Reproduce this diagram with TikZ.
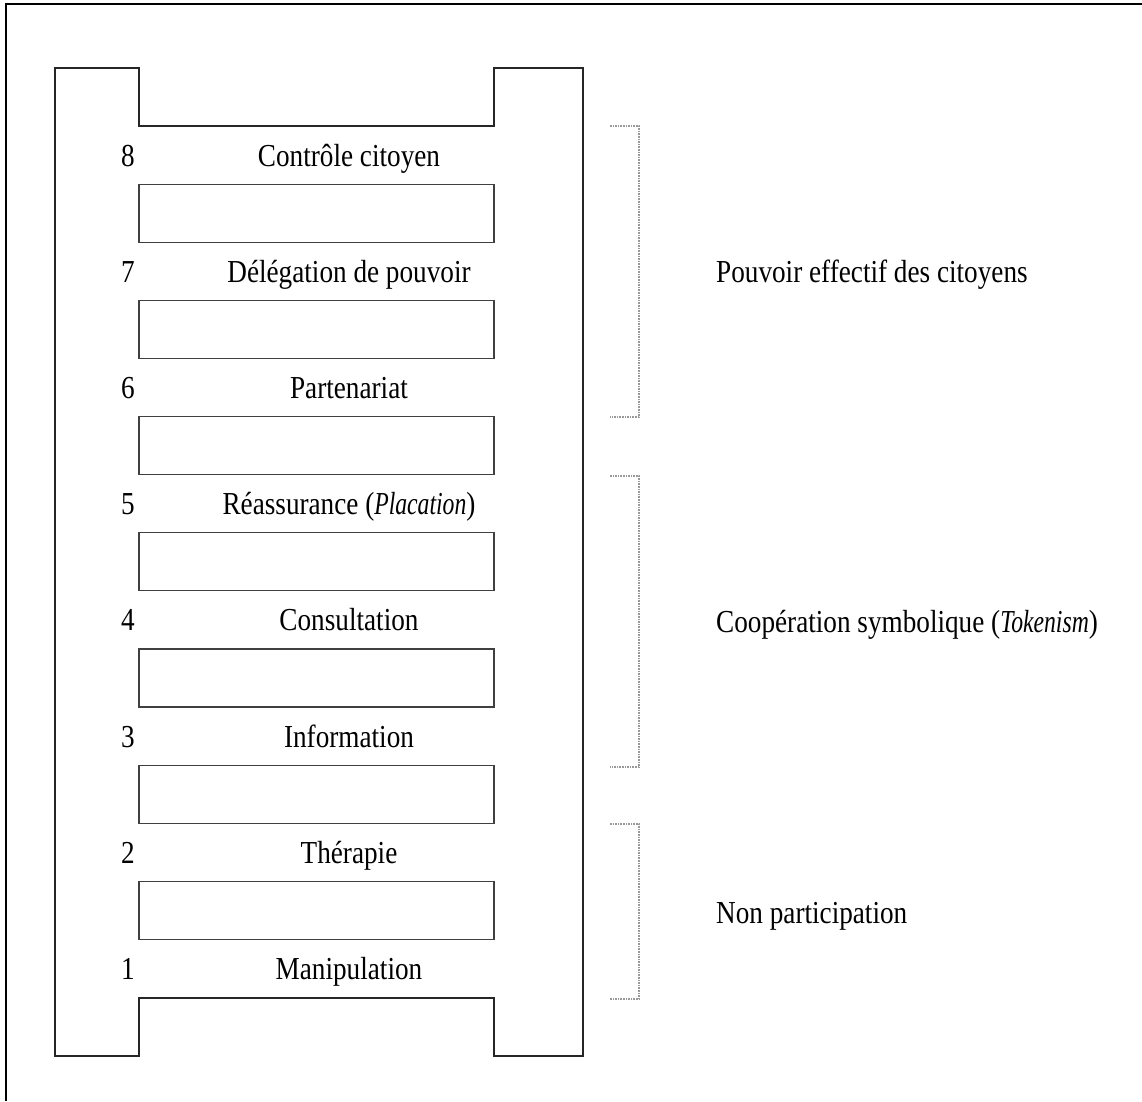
\documentclass[tikz,border=0pt]{standalone}
\usepackage{fontspec}
\setmainfont{Liberation Serif}[FakeStretch=0.85, ItalicFeatures={FakeStretch=0.74}]
\begin{document}
\begin{tikzpicture}[x=1pt,y=-1pt,
  rail/.style={draw=black!85, line width=1.3pt},
  rung/.style={draw=black!75, line width=1.3pt, minimum width=355pt, minimum height=58pt, inner sep=0pt},
  lbl/.style={font=\fontsize{32}{36}\selectfont, inner sep=0pt},
  brk/.style={draw=black!40, densely dotted, line width=1.6pt},
  frame/.style={draw=black, line width=1.6pt}]
\useasboundingbox (0,0) rectangle (1142,1101);
% frame (top and left edges only)
\draw[frame] (1142,4) -- (6,4) -- (6,1101);
% ladder rails
\draw[rail] (139,126) -- (139,68) -- (55,68) -- (55,1056) -- (139,1056) -- (139,998)
  -- (494,998) -- (494,1056) -- (583,1056) -- (583,68) -- (494,68) -- (494,126) -- cycle;
% rungs
\foreach \j in {1,...,7}{
  \node[rung] (rung\j) at (316.5,{126+58.1*(2*\j-0.5)}) {};
}
% step labels
\foreach \L/\t in {8/{Contrôle citoyen},7/{Délégation de pouvoir},6/{Partenariat},
  5/{Réassurance (\textit{Placation})},4/{Consultation},3/{Information},2/{Thérapie},1/{Manipulation}}{
  \node[lbl, anchor=base] (num\L) at (128,{155+116.2*(8-\L)+11}) {\L};
  \node[lbl, anchor=base] (lab\L) at (349,{155+116.2*(8-\L)+11}) {\t};
}
% brackets
\coordinate (a1) at (610,126);   \coordinate (a2) at (639,126);
\coordinate (a3) at (639,417);   \coordinate (a4) at (610,417);
\coordinate (b1) at (610,476);   \coordinate (b2) at (639,476);
\coordinate (b3) at (639,767);   \coordinate (b4) at (610,767);
\coordinate (c1) at (610,824);   \coordinate (c2) at (639,824);
\coordinate (c3) at (639,999);   \coordinate (c4) at (610,999);
\draw[brk] (a1) -- (a2) -- (a3) -- (a4);
\draw[brk] (b1) -- (b2) -- (b3) -- (b4);
\draw[brk] (c1) -- (c2) -- (c3) -- (c4);
% group labels
\node[lbl, anchor=base west] (g1) at (716,282) {Pouvoir effectif des citoyens};
\node[lbl, anchor=base west] (g2) at (716,632) {Coopération symbolique (\textit{Tokenism})};
\node[lbl, anchor=base west] (g3) at (716,923) {Non participation};
\end{tikzpicture}
\end{document}
